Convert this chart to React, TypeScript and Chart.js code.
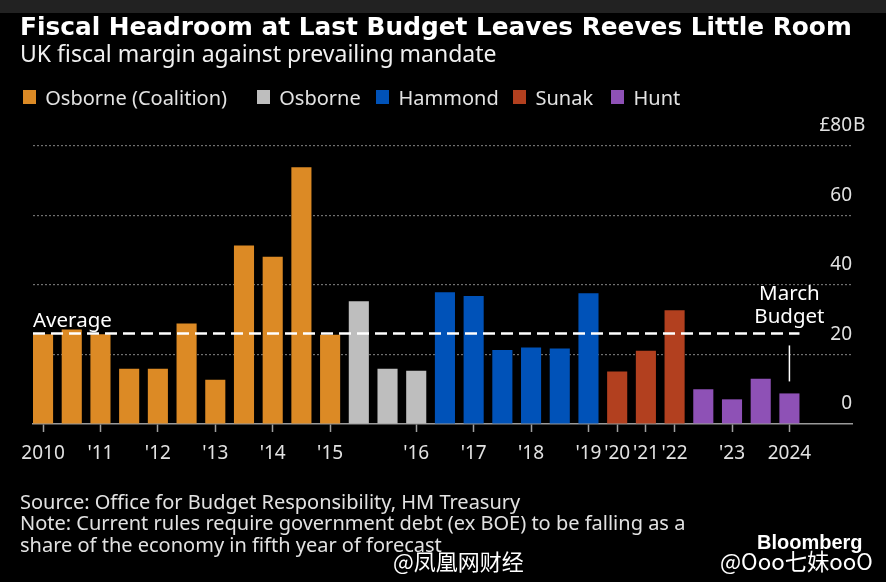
import React, { useEffect, useRef } from 'react';
import { Chart, registerables } from 'chart.js';

Chart.register(...registerables);

// ---------- data ----------
const TITLE = 'Fiscal Headroom at Last Budget Leaves Reeves Little Room';
const SUBTITLE = 'UK fiscal margin against prevailing mandate';
const SERIES = ['Osborne (Coalition)', 'Osborne', 'Hammond', 'Sunak', 'Hunt'];
const SERIES_COLORS = ['#DC8A25', '#BEBEBE', '#0052B8', '#B2401F', '#8E51B6'];
// £bn headroom at each fiscal event, in order
const BAR_VALUES = [
  25.8, 27.2, 25.8, 15.9, 15.9, 28.9, 12.7, 51.4, 48.1, 73.9, 25.7,
  35.3, 15.9, 15.3,
  37.9, 36.8, 21.3, 22.0, 21.7, 37.6,
  15.1, 21.1, 32.7,
  10.0, 7.1, 13.0, 8.8,
];
// index into SERIES for each bar
const BAR_SERIES = [
  0, 0, 0, 0, 0, 0, 0, 0, 0, 0, 0,
  1, 1, 1,
  2, 2, 2, 2, 2, 2,
  3, 3, 3,
  4, 4, 4, 4,
];
const X_TICK_POSITIONS = [0, 2, 4, 6, 8, 10, 13, 15, 17, 19, 20, 21, 22, 24, 26];
const X_TICK_LABELS = ['2010', "'11", "'12", "'13", "'14", "'15", "'16", "'17", "'18", "'19", "'20", "'21", "'22", "'23", '2024'];
const Y_TICKS = [0, 20, 40, 60, 80];
const Y_TOP_LABEL = '£80';
const Y_UNIT = 'B';
const AVERAGE_LABEL = 'Average';
const ANNOTATION_LINES = ['March', 'Budget'];
const SOURCE_LINES = [
  'Source: Office for Budget Responsibility, HM Treasury',
  'Note: Current rules require government debt (ex BOE) to be falling as a',
  'share of the economy in fifth year of forecast',
];
const BRAND = 'Bloomberg';
const WATERMARKS = ['@凤凰网财经', '@Ooo七妹ooO'];

// ---------- style ----------
const FONT = "'Noto Sans', 'DejaVu Sans', sans-serif";
const TEXT = '#e2e2e2';
const BAR_PCT = 0.7;
const X_MIN = -BAR_PCT / 2;
const X_MAX = 28.18;
const LEGEND_LEFTS = [22.7, 256.7, 376, 513, 611];

const average = BAR_VALUES.reduce((a, b) => a + b, 0) / BAR_VALUES.length;

const annotationPlugin = {
  id: 'annotations',
  afterDraw(chart: any) {
    const { ctx, scales, chartArea } = chart;
    const x = scales.x;
    const y = scales.y;
    ctx.save();
    ctx.fillStyle = '#ffffff';
    ctx.font = `20.5px ${FONT}`;
    ctx.textBaseline = 'alphabetic';
    // Average label
    ctx.textAlign = 'left';
    const avgY = y.getPixelForValue(average);
    ctx.fillText(AVERAGE_LABEL, x.getPixelForValue(X_MIN), avgY - 7);
    // March Budget annotation
    const lastIdx = BAR_VALUES.length - 1;
    const bx = x.getPixelForValue(lastIdx);
    const by = y.getPixelForValue(BAR_VALUES[lastIdx]);
    ctx.strokeStyle = '#ffffff';
    ctx.lineWidth = 1.5;
    ctx.beginPath();
    ctx.moveTo(bx, by - 12);
    ctx.lineTo(bx, by - 48);
    ctx.stroke();
    ctx.textAlign = 'center';
    ctx.fillText(ANNOTATION_LINES[1], bx, by - 70);
    ctx.fillText(ANNOTATION_LINES[0], bx, by - 93);
    // unit suffix on top tick label
    ctx.fillStyle = TEXT;
    ctx.font = `19px ${FONT}`;
    ctx.textAlign = 'left';
    ctx.textBaseline = 'middle';
    ctx.fillText(Y_UNIT, chartArea.right + 1, y.getPixelForValue(Y_TICKS[Y_TICKS.length - 1]) - 20);
    ctx.restore();
  },
};

export default function App() {
  const canvasRef = useRef<HTMLCanvasElement | null>(null);

  useEffect(() => {
    document.body.style.margin = '0';
    document.body.style.background = '#000';
    const canvas = canvasRef.current;
    if (!canvas) return;
    const chart = new Chart(canvas, {
      data: {
        datasets: [
          {
            type: 'line',
            data: [
              { x: X_MIN, y: average },
              { x: BAR_VALUES.length - 1 + BAR_PCT / 2, y: average },
            ],
            borderColor: '#ffffff',
            borderWidth: 2.5,
            borderDash: [12, 6],
            pointRadius: 0,
            order: 0,
          } as any,
          {
            type: 'bar',
            data: BAR_VALUES.map((v, i) => ({ x: i, y: v })),
            backgroundColor: BAR_SERIES.map((s) => SERIES_COLORS[s]),
            barPercentage: BAR_PCT,
            categoryPercentage: 1,
            order: 1,
          } as any,
        ],
      },
      options: {
        responsive: false,
        animation: false,
        events: [],
        layout: { padding: { left: 33, right: 34, top: 146, bottom: 0 } },
        plugins: { legend: { display: false }, tooltip: { enabled: false } },
        scales: {
          x: {
            type: 'linear',
            offset: false,
            min: X_MIN,
            max: X_MAX,
            afterBuildTicks: (axis: any) => {
              axis.ticks = X_TICK_POSITIONS.map((v) => ({ value: v }));
            },
            afterFit: (axis: any) => {
              axis.height = 158;
            },
            ticks: {
              autoSkip: false,
              maxRotation: 0,
              color: TEXT,
              padding: 10,
              font: { family: FONT, size: 19 },
              callback: (v: any) => {
                const i = X_TICK_POSITIONS.indexOf(Number(v));
                return i >= 0 ? X_TICK_LABELS[i] : '';
              },
            },
            grid: {
              display: true,
              offset: false,
              drawOnChartArea: false,
              drawTicks: true,
              tickLength: 8,
              tickColor: '#a0a0a0',
              tickWidth: 1.5,
            },
            border: { display: true, color: '#9a9a9a', width: 1.5 },
          },
          y: {
            type: 'linear',
            position: 'right',
            min: 0,
            max: 80,
            afterBuildTicks: (axis: any) => {
              axis.ticks = Y_TICKS.map((v) => ({ value: v }));
            },
            afterFit: (axis: any) => {
              axis.width = 0;
            },
            ticks: {
              mirror: true,
              labelOffset: -20,
              padding: 0,
              color: TEXT,
              font: { family: FONT, size: 19 },
              callback: (v: any) => (Number(v) === Y_TICKS[Y_TICKS.length - 1] ? Y_TOP_LABEL : String(v)),
            },
            grid: {
              color: (c: any) => (c.tick && c.tick.value === 0 ? 'rgba(0,0,0,0)' : '#707070'),
              lineWidth: 1.2,
              drawTicks: false,
            },
            border: { display: false, dash: [2, 2] },
          },
        },
      } as any,
      plugins: [annotationPlugin],
    });
    return () => chart.destroy();
  }, []);

  const abs = (o: React.CSSProperties): React.CSSProperties => ({ position: 'absolute', whiteSpace: 'nowrap', ...o });

  return (
    <div style={{ position: 'relative', width: 886, height: 582, background: '#000', overflow: 'hidden', fontFamily: FONT }}>
      <canvas ref={canvasRef} width={886} height={582} style={abs({ left: 0, top: 0, width: 886, height: 582 })} />
      <div style={abs({ left: 0, top: 0, width: 886, height: 13, background: '#222' })} />
      <div style={abs({ left: 20, top: 14, fontSize: 24.8, lineHeight: '25px', fontWeight: 'bold', color: '#fff', fontFamily: "'DejaVu Sans', sans-serif" })}>{TITLE}</div>
      <div style={abs({ left: 20, top: 42.3, fontSize: 23, lineHeight: '23px', color: '#f0f0f0' })}>{SUBTITLE}</div>
      {SERIES.map((s, i) => (
        <div key={s} style={abs({ left: LEGEND_LEFTS[i], top: 86.5, display: 'flex', alignItems: 'center', fontSize: 20, lineHeight: '21px', color: TEXT })}>
          <span style={{ display: 'inline-block', width: 13, height: 14, background: SERIES_COLORS[i], marginRight: 9.5 }} />
          <span>{s}</span>
        </div>
      ))}
      {SOURCE_LINES.map((t, i) => (
        <div key={i} style={abs({ left: 20, top: 490.5 + i * 21.7, fontSize: 20, lineHeight: '22px', color: TEXT })}>{t}</div>
      ))}
      <div style={abs({ left: 757, top: 531, fontSize: 20, lineHeight: '22px', fontWeight: 'bold', color: '#fff', fontFamily: "'Liberation Sans', sans-serif" })}>{BRAND}</div>
      <div style={abs({ left: 393, top: 547, fontSize: 22, lineHeight: '26px', color: '#fff', fontFamily: "'Noto Sans CJK SC', sans-serif" })}>{WATERMARKS[0]}</div>
      <div style={abs({ left: 720, top: 547, fontSize: 22.3, lineHeight: '26px', color: '#fff', fontFamily: "'Noto Sans CJK SC', sans-serif" })}>{WATERMARKS[1]}</div>
    </div>
  );
}
